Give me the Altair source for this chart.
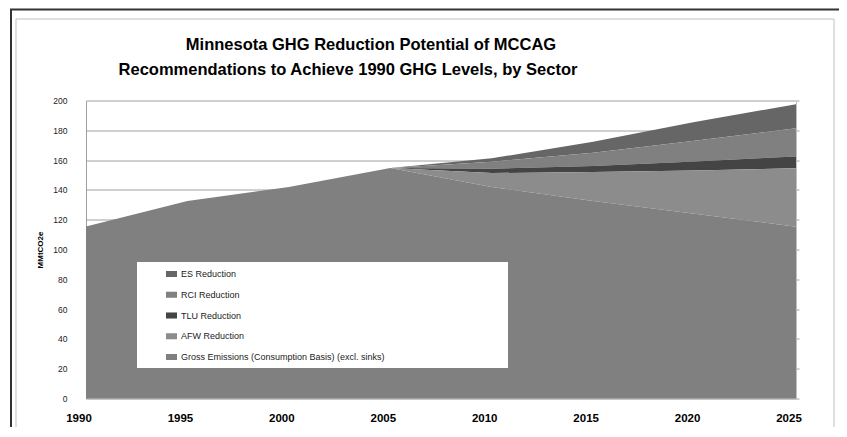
import altair as alt
import pandas as pd

years = [1990, 1995, 2000, 2005, 2010, 2015, 2020, 2025]
gross = [115.5, 132.5, 142.0, 154.7, 142.0, 132.5, 124.0, 115.3]
afw = [0, 0, 0, 0, 9.3, 19.5, 29.0, 39.2]
tlu = [0, 0, 0, 0, 2.9, 4.0, 6.0, 8.0]
rci = [0, 0, 0, 0, 4.7, 9.0, 14.0, 18.8]
es = [0, 0, 0, 0, 2.3, 7.3, 12.6, 16.2]

series_names = ["ES Reduction", "RCI Reduction", "TLU Reduction", "AFW Reduction",
                "Gross Emissions (Consumption Basis) (excl. sinks)"]
series_colors = ["#666666", "#808080", "#444444", "#8c8c8c", "#808080"]
series_vals = [es, rci, tlu, afw, gross]
stack_rank = [4, 3, 2, 1, 0]

title_lines = ["Minnesota GHG Reduction Potential of MCCAG",
               "Recommendations to Achieve 1990 GHG Levels, by Sector"]

rows = []
for name, vals, rk in zip(series_names, series_vals, stack_rank):
    for y, v in zip(years, vals):
        rows.append({"year": y, "value": v, "series": name, "rank": rk})
df = pd.DataFrame(rows)
tot = pd.DataFrame({"year": years,
                    "total": [sum(s[i] for s in series_vals) for i in range(len(years))]})

FONT = "Liberation Sans"

xscale = alt.Scale(domain=[1990, 2025], nice=False, zero=False)
yscale = alt.Scale(domain=[0, 200], nice=False)

areas = alt.Chart(df).mark_area(opacity=1, interpolate="linear").encode(
    x=alt.X("year:Q", scale=xscale,
            axis=alt.Axis(values=years, format="d", title=None, grid=False, ticks=False,
                          domain=True, domainColor="#bbbbbb", labelFont=FONT,
                          labelFontSize=11.5, labelFontWeight="bold", labelColor="#000000",
                          labelFlush=False, labelOffset=-7.5, labelPadding=14,
                          labelBaseline="top")),
    y=alt.Y("value:Q", stack="zero", scale=yscale,
            axis=alt.Axis(values=list(range(0, 201, 20)), grid=True, gridColor="#a0a0a0",
                          gridWidth=1, domain=True, domainColor="#a0a0a0", ticks=False,
                          labelFont=FONT, labelFontSize=8.5, labelColor="#222222",
                          labelPadding=19, title="MMtCO2e", titleFont=FONT,
                          titleFontSize=8, titleFontWeight="bold", titleColor="#000000",
                          titleX=-42, titleY=149, titleBaseline="bottom", titleAngle=-90)),
    color=alt.Color("series:N",
                    scale=alt.Scale(domain=series_names, range=series_colors),
                    legend=alt.Legend(orient="none", legendX=80, legendY=168, title=None,
                                      symbolType="M-1,-0.55L1,-0.55L1,0.55L-1,0.55Z",
                                      symbolSize=121, symbolStrokeWidth=0,
                                      symbolOpacity=1, rowPadding=9.75, labelOffset=4,
                                      labelFont=FONT, labelFontSize=9,
                                      labelColor="#222222", labelLimit=400,
                                      padding=0)),
    order=alt.Order("rank:Q", sort="ascending"),
)

right_axis = alt.Chart(tot).mark_line(opacity=0).encode(
    x=alt.X("year:Q", scale=xscale),
    y=alt.Y("total:Q", scale=yscale,
            axis=alt.Axis(orient="right", values=list(range(0, 201, 20)), labels=False,
                          title=None, grid=False, ticks=True, tickSize=3,
                          tickColor="#a0a0a0", domain=True, domainColor="#c0c0c0")),
)

one = pd.DataFrame({"k": [0]})

legend_box = alt.Chart(one).mark_rect(fill="#ffffff").encode(
    x=alt.value(51), x2=alt.value(422), y=alt.value(161.5), y2=alt.value(267.5))

outer_border = alt.Chart(one).mark_rect(fillOpacity=0, stroke="#333333", strokeWidth=2).encode(
    x=alt.value(-75), x2=alt.value(770), y=alt.value(-91), y2=alt.value(345))

inner_border = alt.Chart(one).mark_rect(fillOpacity=0, stroke="#c0c0c0", strokeWidth=1).encode(
    x=alt.value(-70), x2=alt.value(748), y=alt.value(-81.5), y2=alt.value(334.5))

t1 = alt.Chart(pd.DataFrame({"t": [title_lines[0]]})).mark_text(
    font=FONT, fontSize=16.5, fontWeight="bold", color="#000000",
    align="center", baseline="middle").encode(
    x=alt.value(285), y=alt.value(-56), text="t:N")

t2 = alt.Chart(pd.DataFrame({"t": [title_lines[1]]})).mark_text(
    font=FONT, fontSize=16.5, fontWeight="bold", color="#000000",
    align="center", baseline="middle").encode(
    x=alt.value(262), y=alt.value(-30.5), text="t:N")

chart = alt.layer(
    outer_border, inner_border, areas, right_axis, legend_box, t1, t2
).resolve_axis(y="independent").properties(
    width=710, height=298,
    autosize=alt.AutoSizeParams(type="none"),
    padding={"left": 78, "top": 92.5, "right": 43, "bottom": 28},
    background="#ffffff",
).configure_view(stroke=None)

chart.save("out.html", embed_options={"renderer": "svg", "actions": False})
